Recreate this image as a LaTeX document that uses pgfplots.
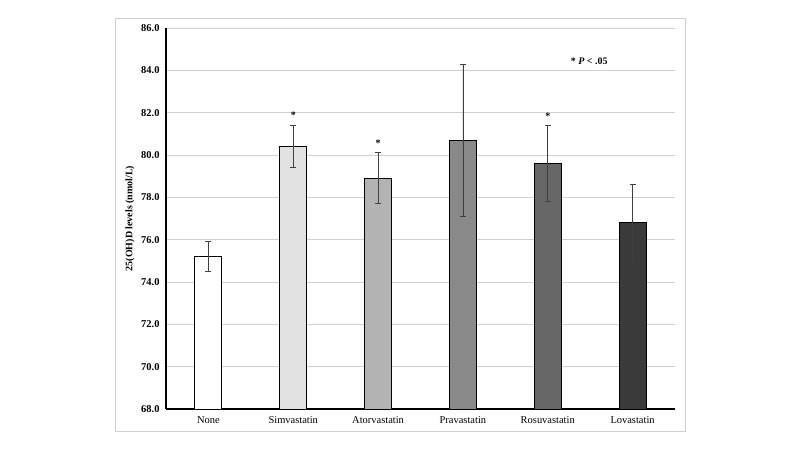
\documentclass[border=0pt]{standalone}
\usepackage{pgfplots}
\pgfplotsset{compat=1.18}
\usepackage{fontspec}
\setmainfont{Liberation Serif}
\definecolor{gridc}{HTML}{D0D0D0}
\definecolor{c1}{HTML}{FFFFFF}
\definecolor{c2}{HTML}{E2E2E2}
\definecolor{c3}{HTML}{B3B3B3}
\definecolor{c4}{HTML}{898989}
\definecolor{c5}{HTML}{676767}
\definecolor{c6}{HTML}{3A3A3A}
\definecolor{errc}{HTML}{404040}
\pgfplotsset{myerr/.style={
  error bars/y dir=both, error bars/y explicit,
  error bars/error bar style={errc, line width=0.8pt},
  error bars/error mark options={errc, rotate=90, mark size=3bp, line width=0.8pt}}}
\begin{document}
\begin{tikzpicture}
\begin{axis}[
  at={(0,0)}, anchor=south west,
  scale only axis, width=509bp, height=381bp,
  xmin=-0.5, xmax=5.5, ymin=68, ymax=86,
  ybar, bar width=27bp, bar shift=0pt,
  xtick={0,1,2,3,4,5},
  xticklabels={None,Simvastatin,Atorvastatin,Pravastatin,Rosuvastatin,Lovastatin},
  ytick={68,70,...,86},
  yticklabel style={xshift=-3bp, /pgf/number format/.cd,fixed,fixed zerofill,precision=1,assume math mode=true},
  yticklabel={\bfseries\pgfmathprintnumber{\tick}},
  tick label style={font=\fontsize{10.5}{12}\selectfont},
  xticklabel style={yshift=-4bp},
  major tick length=0pt,
  ymajorgrids, grid style={gridc, line width=0.8pt},
  axis x line*=bottom, axis y line*=left,
  axis line style={black, line width=1.2pt, -},
  clip=false,
]
\addplot[fill=c1, draw=black, line width=1pt, myerr] coordinates {(0,75.2) +- (0,0.7)};
\addplot[fill=c2, draw=black, line width=1pt, myerr] coordinates {(1,80.4) +- (0,1.0)};
\addplot[fill=c3, draw=black, line width=1pt, myerr] coordinates {(2,78.9) +- (0,1.2)};
\addplot[fill=c4, draw=black, line width=1pt, myerr] coordinates {(3,80.7) +- (0,3.6)};
\addplot[fill=c5, draw=black, line width=1pt, myerr] coordinates {(4,79.6) +- (0,1.8)};
\addplot[fill=c6, draw=black, line width=1pt, myerr] coordinates {(5,76.8) +- (0,1.8)};
\node[font=\fontsize{10}{12}\selectfont\bfseries] at (axis cs:1,81.9) {*};
\node[font=\fontsize{10}{12}\selectfont\bfseries] at (axis cs:2,80.55) {*};
\node[font=\fontsize{10}{12}\selectfont\bfseries] at (axis cs:4,81.85) {*};
\node[font=\fontsize{10}{12}\selectfont\bfseries, anchor=west] at (axis cs:4.23,84.45) {* \textit{P} < .05};
\node[font=\fontsize{10}{12}\selectfont\bfseries, rotate=90] at (axis description cs:-0.0707,0.5) {25(OH)D levels (nmol/L)};
\end{axis}
\draw[gridc, line width=0.8pt] (-51bp,-22bp) rectangle (519bp,391bp);
\useasboundingbox (-166bp,-41bp) rectangle (634bp,409bp);
\end{tikzpicture}
\end{document}
